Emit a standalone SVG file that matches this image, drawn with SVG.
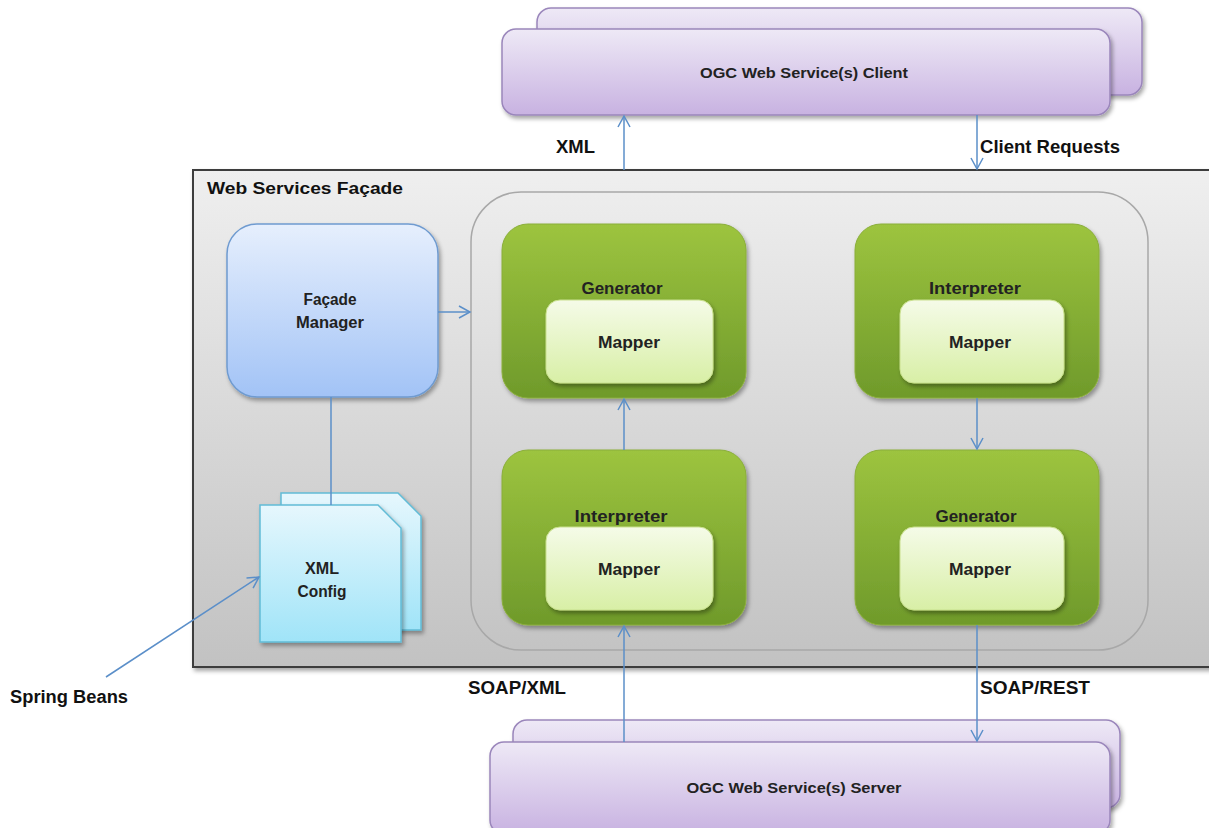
<svg xmlns="http://www.w3.org/2000/svg" width="1209" height="828" viewBox="0 0 1209 828">
<defs>
<linearGradient id="gPurple" x1="0" y1="0" x2="0" y2="1"><stop offset="0" stop-color="#eee9f6"/><stop offset="1" stop-color="#c8b2e1"/></linearGradient>
<linearGradient id="gGray" x1="0" y1="0" x2="0" y2="1"><stop offset="0" stop-color="#efefef"/><stop offset="1" stop-color="#c2c2c2"/></linearGradient>
<linearGradient id="gBlue" x1="0" y1="0" x2="0" y2="1"><stop offset="0" stop-color="#e6effd"/><stop offset="1" stop-color="#a2c3f6"/></linearGradient>
<linearGradient id="gCyan" x1="0" y1="0" x2="0" y2="1"><stop offset="0" stop-color="#e6f7fd"/><stop offset="1" stop-color="#a0e4f8"/></linearGradient>
<linearGradient id="gGreen" x1="0" y1="0" x2="0" y2="1"><stop offset="0" stop-color="#9dc43f"/><stop offset="1" stop-color="#6f9a2b"/></linearGradient>
<linearGradient id="gMap" x1="0" y1="0" x2="0" y2="1"><stop offset="0" stop-color="#f5fbe8"/><stop offset="1" stop-color="#d8efa6"/></linearGradient>
<filter id="sh" x="-10%" y="-10%" width="125%" height="130%"><feDropShadow dx="2" dy="3" stdDeviation="2" flood-color="#000" flood-opacity="0.35"/></filter>
<marker id="arr" markerWidth="14" markerHeight="14" refX="12" refY="7" orient="auto" markerUnits="userSpaceOnUse"><path d="M1,1 L12,7 L1,13" fill="none" stroke="#5b8fc9" stroke-width="1.5"/></marker>
</defs>
<style>
.purple{fill:url(#gPurple);stroke:#9a86bb;stroke-width:1.5}
.green{fill:url(#gGreen);stroke:#8aae3a;stroke-width:1}
.map{fill:url(#gMap);stroke:#c9e08e;stroke-width:1}
.lbl{font-family:"Liberation Sans",Arial,sans-serif;font-weight:bold;fill:#111}
.in{font-family:"Liberation Sans",Arial,sans-serif;font-weight:bold;fill:#222;text-anchor:middle}
.conn line{stroke:#5b8fc9;stroke-width:1.5;fill:none}
</style>
<rect width="1209" height="828" fill="#ffffff"/>

<g id="client">
<rect x="537" y="8" width="605" height="87" rx="14" class="purple" filter="url(#sh)"/>
<rect x="502" y="29" width="608" height="86" rx="14" class="purple" filter="url(#sh)"/>
<text x="804" y="78" class="in" font-size="15" textLength="208" lengthAdjust="spacingAndGlyphs">OGC Web Service(s) Client</text>
</g>

<g id="facade">
<rect x="193" y="170" width="1020" height="497" fill="url(#gGray)" stroke="#3c3c3c" stroke-width="2" filter="url(#sh)"/>
<text x="207" y="194" class="lbl" font-size="17" textLength="196" lengthAdjust="spacingAndGlyphs">Web Services Façade</text>
</g>

<g id="container">
<rect x="471" y="192" width="677" height="458" rx="50" fill="none" stroke="#a8a8a8" stroke-width="1.5"/>
</g>

<g id="facade-manager">
<rect x="227" y="224" width="211" height="173" rx="30" fill="url(#gBlue)" stroke="#6f9bd0" stroke-width="1.5" filter="url(#sh)"/>
<text x="330" y="305" class="in" font-size="16" textLength="53" lengthAdjust="spacingAndGlyphs">Façade</text>
<text x="330" y="328" class="in" font-size="16" textLength="68" lengthAdjust="spacingAndGlyphs">Manager</text>
</g>

<g id="xml-config">
<path d="M281,493 H398 L421,516 V630 H281 Z" fill="url(#gCyan)" stroke="#62bcd6" stroke-width="1.5" filter="url(#sh)"/>
<path d="M260,505 H378 L401,528 V642 H260 Z" fill="url(#gCyan)" stroke="#62bcd6" stroke-width="1.5" filter="url(#sh)"/>
<text x="322" y="574" class="in" font-size="16" textLength="34" lengthAdjust="spacingAndGlyphs">XML</text>
<text x="322" y="597" class="in" font-size="16" textLength="49" lengthAdjust="spacingAndGlyphs">Config</text>
</g>

<g id="generator-top">
<rect x="502" y="224" width="244" height="174" rx="26" class="green" filter="url(#sh)"/>
<text x="622" y="294" class="in" font-size="16" textLength="81" lengthAdjust="spacingAndGlyphs">Generator</text>
<rect x="546" y="300" width="167" height="83" rx="14" class="map" filter="url(#sh)"/>
<text x="629" y="348" class="in" font-size="17" textLength="62" lengthAdjust="spacingAndGlyphs">Mapper</text>
</g>

<g id="interpreter-top">
<rect x="855" y="224" width="244" height="174" rx="26" class="green" filter="url(#sh)"/>
<text x="975" y="294" class="in" font-size="16" textLength="92" lengthAdjust="spacingAndGlyphs">Interpreter</text>
<rect x="900" y="300" width="164" height="83" rx="14" class="map" filter="url(#sh)"/>
<text x="980" y="348" class="in" font-size="17" textLength="62" lengthAdjust="spacingAndGlyphs">Mapper</text>
</g>

<g id="interpreter-bottom">
<rect x="502" y="450" width="244" height="175" rx="26" class="green" filter="url(#sh)"/>
<text x="621" y="522" class="in" font-size="16" textLength="93" lengthAdjust="spacingAndGlyphs">Interpreter</text>
<rect x="546" y="527" width="167" height="83" rx="14" class="map" filter="url(#sh)"/>
<text x="629" y="575" class="in" font-size="17" textLength="62" lengthAdjust="spacingAndGlyphs">Mapper</text>
</g>

<g id="generator-bottom">
<rect x="855" y="450" width="244" height="175" rx="26" class="green" filter="url(#sh)"/>
<text x="976" y="522" class="in" font-size="16" textLength="81" lengthAdjust="spacingAndGlyphs">Generator</text>
<rect x="900" y="527" width="164" height="83" rx="14" class="map" filter="url(#sh)"/>
<text x="980" y="575" class="in" font-size="17" textLength="62" lengthAdjust="spacingAndGlyphs">Mapper</text>
</g>

<g id="server">
<rect x="513" y="720" width="607" height="88" rx="14" class="purple" filter="url(#sh)"/>
<rect x="490" y="742" width="620" height="92" rx="14" class="purple" filter="url(#sh)"/>
<text x="794" y="793" class="in" font-size="15" textLength="215" lengthAdjust="spacingAndGlyphs">OGC Web Service(s) Server</text>
</g>

<g id="connectors" class="conn">
<line x1="624" y1="170" x2="624" y2="116" marker-end="url(#arr)"/>
<line x1="977" y1="115" x2="977" y2="169" marker-end="url(#arr)"/>
<line x1="438" y1="312" x2="470" y2="312" marker-end="url(#arr)"/>
<line x1="331" y1="397" x2="331" y2="505"/>
<line x1="106" y1="677" x2="259" y2="577" marker-end="url(#arr)"/>
<line x1="624" y1="450" x2="624" y2="399" marker-end="url(#arr)"/>
<line x1="977" y1="398" x2="977" y2="449" marker-end="url(#arr)"/>
<line x1="624" y1="742" x2="624" y2="626" marker-end="url(#arr)"/>
<line x1="977" y1="625" x2="977" y2="741" marker-end="url(#arr)"/>
</g>

<g id="labels">
<text x="556" y="153" class="lbl" font-size="18" textLength="39" lengthAdjust="spacingAndGlyphs">XML</text>
<text x="980" y="153" class="lbl" font-size="18" textLength="140" lengthAdjust="spacingAndGlyphs">Client Requests</text>
<text x="468" y="694" class="lbl" font-size="18" textLength="98" lengthAdjust="spacingAndGlyphs">SOAP/XML</text>
<text x="980" y="694" class="lbl" font-size="18" textLength="110" lengthAdjust="spacingAndGlyphs">SOAP/REST</text>
<text x="10" y="703" class="lbl" font-size="18" textLength="118" lengthAdjust="spacingAndGlyphs">Spring Beans</text>
</g>
</svg>
